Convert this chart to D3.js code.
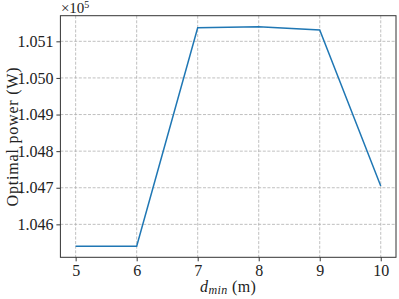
<!DOCTYPE html>
<html>
<head>
<meta charset="utf-8">
<script src="https://cdn.jsdelivr.net/npm/d3@7"></script>
<style>
  body { margin: 0; background: #fff; }
</style>
</head>
<body>
<div id="container"></div>
<script>
// chart data (power in units of 1e5 W)
const dmin = [5, 6, 7, 8, 9, 10];
const power = [1.04540, 1.04540, 1.05137, 1.05140, 1.05131, 1.04705];
const xTicks = [5, 6, 7, 8, 9, 10];
const yTicks = [1.046, 1.047, 1.048, 1.049, 1.050, 1.051];

const FONT = "'Liberation Serif', 'Times New Roman', serif";
const width = 399, height = 299;
const margin = { top: 15.7, right: 3, bottom: 41.7, left: 60.4 };
const iw = width - margin.left - margin.right;
const ih = height - margin.top - margin.bottom;

const svg = d3.select('#container').append('svg')
  .attr('width', width)
  .attr('height', height)
  .attr('font-family', FONT);

// matplotlib-like 5% padding
function pad(ext) {
  const d = (ext[1] - ext[0]) * 0.05;
  return [ext[0] - d, ext[1] + d];
}

const x = d3.scaleLinear().domain(pad(d3.extent(dmin))).range([0, iw]);
const y = d3.scaleLinear().domain(pad(d3.extent(power))).range([ih, 0]);

const g = svg.append('g').attr('transform', `translate(${margin.left},${margin.top})`);

// grid
g.append('g').selectAll('line').data(xTicks).enter().append('line')
  .attr('x1', d => x(d)).attr('x2', d => x(d))
  .attr('y1', 0).attr('y2', ih)
  .attr('stroke', '#b0b0b0').attr('stroke-width', 0.8)
  .attr('stroke-dasharray', '3,1.6');
g.append('g').selectAll('line').data(yTicks).enter().append('line')
  .attr('y1', d => y(d)).attr('y2', d => y(d))
  .attr('x1', 0).attr('x2', iw)
  .attr('stroke', '#b0b0b0').attr('stroke-width', 0.8)
  .attr('stroke-dasharray', '3,1.6');

// the line
g.append('path')
  .datum(dmin.map((d, i) => [d, power[i]]))
  .attr('fill', 'none')
  .attr('stroke', '#1f77b4')
  .attr('stroke-width', 1.5)
  .attr('d', d3.line().x(d => x(d[0])).y(d => y(d[1])));

// axes
const xAxis = g.append('g')
  .attr('transform', `translate(0,${ih})`)
  .call(d3.axisBottom(x).tickValues(xTicks).tickSize(4).tickPadding(3).tickFormat(d3.format('d')));
const yAxis = g.append('g')
  .call(d3.axisLeft(y).tickValues(yTicks).tickSize(4).tickPadding(3).tickFormat(d3.format('.3f')));

[xAxis, yAxis].forEach(a => {
  a.attr('font-family', FONT);
  a.select('.domain').remove();
  a.selectAll('line').attr('stroke', '#222').attr('stroke-width', 0.9);
  a.selectAll('text').style('font-size', '16px').attr('fill', '#222');
});

// box
g.append('rect')
  .attr('width', iw).attr('height', ih)
  .attr('fill', 'none').attr('stroke', '#333').attr('stroke-width', 1);

// offset text
const off = svg.append('text')
  .attr('x', margin.left + 0.5).attr('y', 13.3)
  .attr('fill', '#222')
  .style('font-size', '15px');
off.append('tspan').text('×10');
off.append('tspan').attr('dy', -5).style('font-size', '10px').text('5');

// x label
const xl = svg.append('text')
  .attr('x', margin.left + iw / 2).attr('y', 292)
  .attr('text-anchor', 'middle')
  .attr('fill', '#222')
  .style('font-size', '16px')
  .style('letter-spacing', '0.4px');
xl.append('tspan').style('font-style', 'italic').text('d');
xl.append('tspan').style('font-style', 'italic').style('font-size', '12px').attr('dy', 2).text('min');
xl.append('tspan').attr('dy', -2).text(' (m)');

// y label
svg.append('text')
  .attr('transform', `translate(18,${margin.top + ih / 2}) rotate(-90)`)
  .attr('text-anchor', 'middle')
  .attr('fill', '#222')
  .style('font-size', '16px')
  .style('letter-spacing', '0.8px')
  .text('Optimal power (W)');
</script>
</body>
</html>
